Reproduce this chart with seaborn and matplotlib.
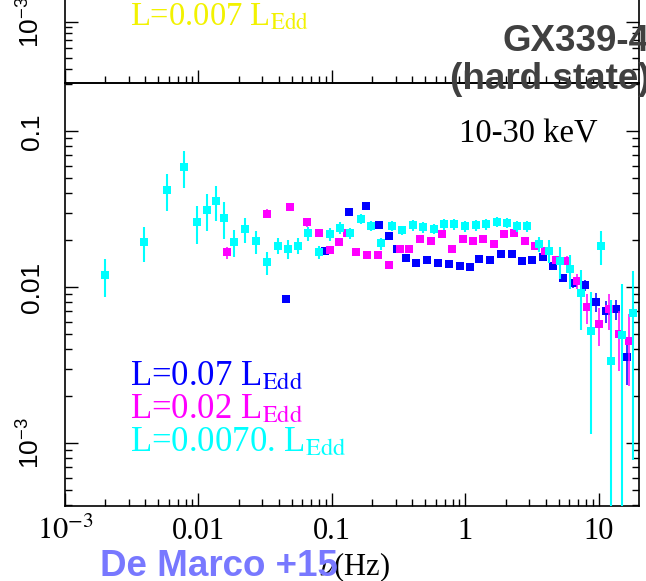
import numpy as np
import pandas as pd
import matplotlib
matplotlib.use("Agg")
import matplotlib.pyplot as plt
import seaborn as sns
from matplotlib.ticker import FixedLocator, LogLocator, NullFormatter

# ---------------- data ----------------
blue_x = [0.0452, 0.0887, 0.134, 0.179, 0.225, 0.267, 0.305, 0.356, 0.424, 0.512,
          0.619, 0.752, 0.91, 1.08, 1.26, 1.53, 1.85, 2.24, 2.66, 3.16,
          3.83, 4.55, 5.41, 6.43, 7.85, 9.44, 11.2, 13.4, 16.1]
blue_y = [0.00837, 0.017, 0.0305, 0.0332, 0.0252, 0.0213, 0.0175, 0.0154, 0.0142, 0.0149,
          0.0142, 0.0140, 0.0137, 0.0135, 0.0151, 0.0149, 0.0164, 0.0164, 0.0147, 0.0149,
          0.0156, 0.0137, 0.0115, 0.01056, 0.0103, 0.00805, 0.00702, 0.00723, 0.00354]
blue_err = [0.0003, 0.0006, 0.0008, 0.0008, 0.0006, 0.0005, 0.0004, 0.0004, 0.0003, 0.0003,
            0.0003, 0.0003, 0.0003, 0.0003, 0.0003, 0.0003, 0.0004, 0.0004, 0.0004, 0.0004,
            0.0005, 0.0005, 0.0006, 0.0007, 0.0008, 0.0011, 0.0011, 0.0011, 0.0012]

mag_x = [0.01626, 0.0324, 0.0484, 0.0646, 0.08, 0.0966, 0.1128, 0.129, 0.151, 0.182,
         0.221, 0.267, 0.323, 0.38, 0.456, 0.552, 0.67, 0.796, 0.964, 1.14,
         1.36, 1.64, 1.95, 2.32, 2.81, 3.33, 3.96, 4.76, 5.73, 6.81,
         8.17, 10.0, 11.8, 14.2, 16.7]
mag_y = [0.0167, 0.0296, 0.0327, 0.026, 0.0224, 0.0173, 0.0194, 0.0224, 0.0168, 0.016,
         0.0162, 0.0138, 0.0175, 0.0175, 0.0203, 0.0197, 0.0218, 0.0175, 0.0203, 0.0197,
         0.0203, 0.0188, 0.0218, 0.0221, 0.0197, 0.0184, 0.0171, 0.0149, 0.0148, 0.011,
         0.00741, 0.00577, 0.0072, 0.00498, 0.00453]
mag_err = [0.0015, 0.002, 0.002, 0.0015, 0.0012, 0.001, 0.001, 0.001, 0.0008, 0.0008,
           0.0008, 0.0008, 0.0008, 0.0008, 0.0008, 0.0008, 0.0008, 0.0008, 0.0008, 0.0008,
           0.0008, 0.0008, 0.0008, 0.0008, 0.0008, 0.0008, 0.0008, 0.0009, 0.001, 0.0012,
           0.0016, 0.0016, 0.0019, 0.0021, 0.0022]

cyan_x = [0.00198, 0.0039, 0.00583, 0.00778, 0.00976, 0.0116, 0.0135, 0.01545, 0.01837, 0.0222,
          0.027, 0.0324, 0.0392, 0.0468, 0.0556, 0.0661, 0.08, 0.0966, 0.1148, 0.1365,
          0.166, 0.197, 0.234, 0.283, 0.336, 0.406, 0.483, 0.584, 0.693, 0.824,
          0.997, 1.19, 1.43, 1.71, 2.06, 2.44, 2.90, 3.53, 4.23, 5.11,
          6.07, 7.33, 8.67, 10.3, 12.4, 14.8, 18.1]
cyan_y = [0.0119, 0.0194, 0.0419, 0.059, 0.026, 0.0312, 0.0356, 0.0278, 0.0194, 0.0235,
          0.0197, 0.0144, 0.0185, 0.0176, 0.0185, 0.0221, 0.0168, 0.0219, 0.024, 0.0221,
          0.0273, 0.0247, 0.0191, 0.0247, 0.0232, 0.0249, 0.0242, 0.0237, 0.0253, 0.0253,
          0.0246, 0.0249, 0.0253, 0.0261, 0.0258, 0.0246, 0.0246, 0.0189, 0.0171, 0.0147,
          0.013, 0.00912, 0.00525, 0.0183, 0.00337, 0.00492, 0.00678]
cyan_err = [0.0032, 0.0049, 0.011, 0.016, 0.0072, 0.0083, 0.009, 0.0074, 0.0038, 0.0043,
            0.0033, 0.0024, 0.0022, 0.0024, 0.0022, 0.0023, 0.0016, 0.002, 0.002, 0.0018,
            0.002, 0.0017, 0.0017, 0.0017, 0.0015, 0.0019, 0.0019, 0.0019, 0.0019, 0.0019,
            0.0019, 0.0019, 0.0019, 0.0019, 0.0019, 0.0019, 0.0019, 0.0021, 0.0029, 0.0034,
            0.0032, 0.0038, 0.0041, 0.0045, 0.0049, 0.0055, 0.006]

x_ticks = [1e-3, 1e-2, 1e-1, 1, 10]
x_ticklabels = [r"$10^{-3}$", "0.01", "0.1", "1", "10"]
y_ticks = [1e-3, 1e-2, 1e-1]
y_ticklabels = [r"$10^{-3}$", "0.01", "0.1"]

series_labels = ["L=0.07 L$_{\\rm Edd}$", "L=0.02 L$_{\\rm Edd}$", "L=0.0070. L$_{\\rm Edd}$"]
top_label = "L=0.007 L$_{\\rm Edd}$"

# ---------------- style ----------------
sns.set_style("ticks")
plt.rcParams.update({
    "font.family": ["Liberation Serif", "DejaVu Sans"],
    "mathtext.fontset": "custom",
    "mathtext.rm": "Liberation Sans",
    "mathtext.it": "Liberation Sans:italic",
    "mathtext.bf": "Liberation Sans:bold",
    "axes.linewidth": 1.2,
    "axes.edgecolor": "black",
})

W, H = 646, 581
fig = plt.figure(figsize=(W / 100, H / 100), dpi=100)


def fx(px):
    return px / W


def fy(py):
    return 1 - py / H


ax = fig.add_axes([fx(65), fy(506), (639 - 65) / W, (506 - 83) / H])
ax.set_xscale("log")
ax.set_yscale("log")

series = [
    (blue_x, blue_y, blue_err, "#0000ff", 1.1, 3),
    (mag_x, mag_y, mag_err, "#ff00ff", 1.1, 4),
    (cyan_x, cyan_y, cyan_err, "#00ffff", 1.5, 5),
]
for xs, ys, es, col, lw, z in series:
    df = pd.DataFrame({"freq": xs, "power": ys, "err": es})
    lower = np.minimum(df["err"].values, df["power"].values * 0.9999)
    ax.errorbar(df["freq"], df["power"], yerr=[lower, df["err"].values], fmt="none",
                ecolor=col, elinewidth=lw, capsize=0, zorder=z)
    sns.scatterplot(data=df, x="freq", y="power", color=col, marker="s", s=32,
                    linewidth=0, ax=ax, zorder=z + 0.5, legend=False)

ax.set_xlim(1e-3, 10 ** 1.30)
ax.set_ylim(10 ** -3.404, 10 ** -0.69)
ax.set_xlabel("")
ax.set_ylabel("")

ax.xaxis.set_major_locator(FixedLocator(x_ticks))
ax.set_xticklabels(x_ticklabels)
ax.xaxis.set_minor_locator(LogLocator(base=10, subs=np.arange(2, 10)))
ax.xaxis.set_minor_formatter(NullFormatter())
ax.yaxis.set_major_locator(FixedLocator(y_ticks))
ax.set_yticklabels(y_ticklabels)
ax.yaxis.set_minor_locator(LogLocator(base=10, subs=np.arange(2, 10)))
ax.yaxis.set_minor_formatter(NullFormatter())

ax.tick_params(which="both", direction="in", top=False, right=True, bottom=True, left=True,
               width=1.0, colors="black")
ax.tick_params(which="major", length=9.5)
ax.tick_params(which="minor", length=5)
ax.tick_params(axis="x", labelsize=22, pad=24, labelfontfamily="Liberation Serif")
ax.tick_params(axis="y", labelsize=19, labelrotation=90, pad=15,
               labelfontfamily="Liberation Sans")
for lab in ax.get_xticklabels():
    lab.set_math_fontfamily("stix")
    lab.set_verticalalignment("baseline")
for lab in ax.get_yticklabels():
    lab.set_math_fontfamily("custom")
    lab.set_verticalalignment("center")

# ---------------- top (clipped) panel ----------------
ax2 = fig.add_axes([fx(65), fy(83), (639 - 65) / W, 183 / H])
ax2.set_facecolor("none")
ax2.set_xscale("log")
ax2.set_yscale("log")
ax2.set_xlim(1e-3, 10 ** 1.30)
ax2.set_ylim(10 ** -3.517, 10 ** -1.966)
ax2.xaxis.set_major_locator(FixedLocator(x_ticks))
ax2.xaxis.set_minor_locator(LogLocator(base=10, subs=np.arange(2, 10)))
ax2.xaxis.set_major_formatter(NullFormatter())
ax2.xaxis.set_minor_formatter(NullFormatter())
ax2.yaxis.set_major_locator(FixedLocator([1e-3]))
ax2.set_yticklabels([r"$10^{-3}$"])
ax2.yaxis.set_minor_locator(LogLocator(base=10, subs=np.arange(2, 10)))
ax2.yaxis.set_minor_formatter(NullFormatter())
ax2.tick_params(which="both", direction="in", top=False, right=True, bottom=True, left=True,
                width=1.0, colors="black")
ax2.tick_params(which="major", length=9.5)
ax2.tick_params(which="minor", length=5)
ax2.tick_params(axis="y", labelsize=19, labelrotation=90, pad=15,
                labelfontfamily="Liberation Sans")
for lab in ax2.get_yticklabels():
    lab.set_math_fontfamily("custom")
    lab.set_verticalalignment("center")

# ---------------- texts ----------------
fig.text(fx(130), fy(25), top_label, color="#f2f200", fontsize=23.5,
         family="Liberation Serif", math_fontfamily="stix", va="baseline")
fig.text(fx(650), fy(51), "GX339-4", color="#404040", fontsize=26.5, fontweight="bold",
         family="Liberation Sans", ha="right", va="baseline")
fig.text(fx(650), fy(89), "(hard state)", color="#404040", fontsize=26.5, fontweight="bold",
         family="Liberation Sans", ha="right", va="baseline", zorder=10)
fig.text(fx(459), fy(142), "10-30 keV", color="black", fontsize=23.5,
         family="Liberation Serif", va="baseline")

label_colors = ["#0000ff", "#ff00ff", "#00ffff"]
label_base = [385, 418, 451]
for txt, col, yb in zip(series_labels, label_colors, label_base):
    fig.text(fx(130), fy(yb), txt, color=col, fontsize=25, family="Liberation Serif",
             math_fontfamily="stix", va="baseline")

fig.text(fx(319), fy(575), r"$\nu$(Hz)", color="black", fontsize=22,
         family="Liberation Serif", math_fontfamily="stix", va="baseline")
fig.text(fx(100), fy(576), "De Marco +15", color="#7878ff", fontsize=26.5, fontweight="bold",
         family="Liberation Sans", va="baseline", zorder=20)

fig.savefig("out.png", dpi=100)
